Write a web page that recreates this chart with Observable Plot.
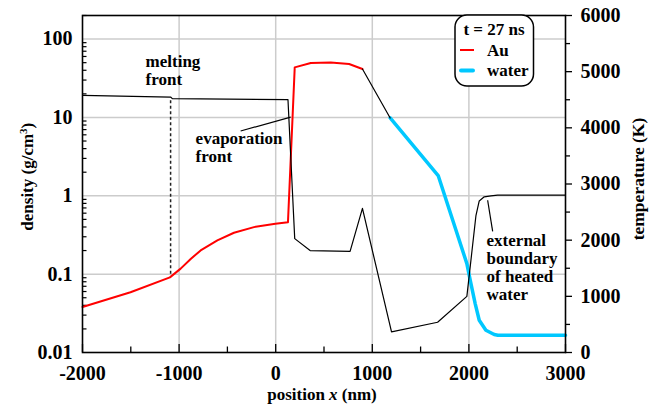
<!DOCTYPE html>
<html><head><meta charset="utf-8">
<script src="https://cdn.jsdelivr.net/npm/d3@7"></script>
<script src="https://cdn.jsdelivr.net/npm/@observablehq/plot@0.6"></script>
<style>
html,body{margin:0;padding:0;background:#fff;}
svg{display:block;}
</style>
</head><body><div id="chart"></div>
<script>
// density (g/cm^3), black line, left log axis
const densX = [-2000, -1088, -1070, 127, 197, 356, 770, 898, 1199, 1676, 1979, 2073, 2107, 2159, 2228, 2297, 3000];
const densY = [19.1, 18.2, 17.4, 16.9, 0.284, 0.2, 0.195, 0.69, 0.0183, 0.0243, 0.052, 0.56, 0.86, 0.97, 1.0, 1.02, 1.02];
// temperature (K), right linear axis
const auX = [-2000, -1503, -1095, -984, -880, -777, -604, -432, -225, -3, 127, 197, 363, 570, 760, 898];
const auT = [810, 1072, 1338, 1493, 1665, 1818, 1996, 2132, 2232, 2292, 2321, 5076, 5154, 5165, 5136, 5047];
const vapX = [898, 1185];
const vapT = [5047, 4176];
const waterX = [1185, 1682, 1979, 2014, 2065, 2107, 2176, 2262, 2300, 3000];
const waterT = [4176, 3151, 1582, 1285, 871, 574, 396, 320, 307, 307];

const xTicks = [-2000, -1000, 0, 1000, 2000, 3000];
const xMinor = [-1500, -500, 500, 1500, 2500];
const xGrid = [-1000, 0, 1000, 2000];
const densTicks = [0.01, 0.1, 1, 10, 100];
const densGrid = [0.1, 1, 10, 100];
const tempTicks = [0, 1000, 2000, 3000, 4000, 5000, 6000];
const tempMinor = [500, 1500, 2500, 3500, 4500, 5500];
const densDomain = [0.01, 200];
const tempDomain = [0, 6000];

const W = 653, H = 408, mL = 82, mR = 88, mT = 15, mB = 56;
const innerW = W - mL - mR, innerH = H - mT - mB;

const lo = Math.log10(densDomain[0]), hi = Math.log10(densDomain[1]);
const tToY = T => Math.pow(10, lo + (T - tempDomain[0]) / (tempDomain[1] - tempDomain[0]) * (hi - lo));

const dens = densX.map((x, i) => ({x, y: densY[i]}));
const au = auX.map((x, i) => ({x, y: tToY(auT[i])}));
const vap = vapX.map((x, i) => ({x, y: tToY(vapT[i])}));
const water = waterX.map((x, i) => ({x, y: tToY(waterT[i])}));
const logMinor = d3.scaleLog().domain(densDomain).ticks().filter(v => !densTicks.some(t => Math.abs(t - v) / t < 1e-6));

const notes = [
  {x: -1347, y: 25.6, text: "melting\nfront"},
  {x: -829, y: 2.70, text: "evaporation\nfront"},
  {x: 2183, y: 0.0465, text: "external\nboundary\nof heated\nwater"}
];
const pointers = [
  {x1: -363, y1: 6.71, x2: 155, y2: 10.1},
  {x1: 2194, y1: 0.877, x2: 2246, y2: 0.352}
];

const svg = Plot.plot({
  width: W, height: H, marginLeft: mL, marginRight: mR, marginTop: mT, marginBottom: mB,
  style: {fontFamily: "'Liberation Serif', 'Times New Roman', serif", fontWeight: "bold", background: "white", color: "black"},
  x: {domain: [-2000, 3000]},
  y: {type: "log", domain: densDomain},
  marks: [
    Plot.gridX({ticks: xGrid, stroke: "#cccccc", strokeOpacity: 1, strokeWidth: 1.5}),
    Plot.gridY({ticks: densGrid, stroke: "#cccccc", strokeOpacity: 1, strokeWidth: 1.5}),
    Plot.tickY(logMinor, {y: d => d, stroke: "black", strokeWidth: 1.2, insetRight: innerW - 4.5}),
    Plot.tickX(xTicks, {x: d => d, stroke: "black", strokeWidth: 1.3, insetTop: innerH - 8}),
    Plot.tickX(xMinor, {x: d => d, stroke: "black", strokeWidth: 1.3, insetTop: innerH - 5.5}),
    Plot.axisX({ticks: xTicks, tickSize: 0, tickPadding: 13, fontSize: 20, tickFormat: d => String(d), label: null}),
    Plot.axisY({anchor: "left", ticks: densTicks, tickSize: 0, tickPadding: 10, fontSize: 20, tickFormat: d => String(d), label: null}),
    // right temperature axis
    Plot.tickY(tempTicks, {y: d => tToY(d), stroke: "black", strokeWidth: 1.3, insetLeft: innerW, insetRight: -7}),
    Plot.tickY(tempMinor, {y: d => tToY(d), stroke: "black", strokeWidth: 1.3, insetLeft: innerW, insetRight: -5}),
    Plot.text(tempTicks, {y: d => tToY(d), text: d => String(d), frameAnchor: "right", dx: 15, textAnchor: "start", fontSize: 20, fill: "black"}),
    Plot.ruleX([{x: densX[1], y1: densY[1] * 0.9, y2: tToY(auT[2])}], {x: "x", y1: "y1", y2: "y2", stroke: "#222", strokeWidth: 1.5, strokeDasharray: "3,2.5"}),
    Plot.line(au, {x: "x", y: "y", stroke: "#ff0000", strokeWidth: 2}),
    Plot.line(water, {x: "x", y: "y", stroke: "#00c8ff", strokeWidth: 3.5}),
    Plot.line(vap, {x: "x", y: "y", stroke: "black", strokeWidth: 1.2}),
    Plot.line(dens, {x: "x", y: "y", stroke: "black", strokeWidth: 1.2}),
    Plot.link(pointers, {x1: "x1", y1: "y1", x2: "x2", y2: "y2", stroke: "black", strokeWidth: 1.2}),
    Plot.text(notes, {x: "x", y: "y", text: "text", textAnchor: "start", lineAnchor: "bottom", lineHeight: 1.07, fontSize: 17, fill: "black"}),
    Plot.frame({stroke: "black", strokeWidth: 1.6})
  ]
});

const s = d3.select(svg);
// axis titles
const xt = s.append("text").attr("x", 322).attr("y", 400).attr("text-anchor", "middle").attr("font-size", 17).attr("fill", "black");
xt.append("tspan").text("position ");
xt.append("tspan").attr("font-style", "italic").text("x");
xt.append("tspan").text(" (nm)");

const yl = s.append("text").attr("transform", "translate(33,176.7) rotate(-90)").attr("text-anchor", "middle").attr("font-size", 17).attr("fill", "black");
yl.append("tspan").text("density (g/cm");
yl.append("tspan").attr("font-size", 11).attr("dy", -6).text("3");
yl.append("tspan").attr("dy", 6).text(")");

s.append("text").attr("transform", "translate(644,179) rotate(-90)").attr("text-anchor", "middle").attr("font-size", 17.5).attr("fill", "black").text("temperature (K)");

// legend
const lg = s.append("g");
lg.append("rect").attr("x", 455).attr("y", 15).attr("width", 78.5).attr("height", 71).attr("rx", 12)
  .attr("fill", "white").attr("stroke", "black").attr("stroke-width", 1.5);
lg.append("text").attr("x", 494).attr("y", 35).attr("text-anchor", "middle").attr("font-size", 17).text("t = 27 ns");
lg.append("line").attr("x1", 460).attr("x2", 474).attr("y1", 50).attr("y2", 50).attr("stroke", "#ff0000").attr("stroke-width", 2);
lg.append("text").attr("x", 487).attr("y", 56).attr("text-anchor", "start").attr("font-size", 17).text("Au");
lg.append("line").attr("x1", 461).attr("x2", 473).attr("y1", 70.5).attr("y2", 70.5).attr("stroke", "#00c8ff").attr("stroke-width", 4).attr("stroke-linecap", "round");
lg.append("text").attr("x", 487).attr("y", 76).attr("text-anchor", "start").attr("font-size", 17).text("water");

document.getElementById("chart").appendChild(svg);
</script>
</body></html>
